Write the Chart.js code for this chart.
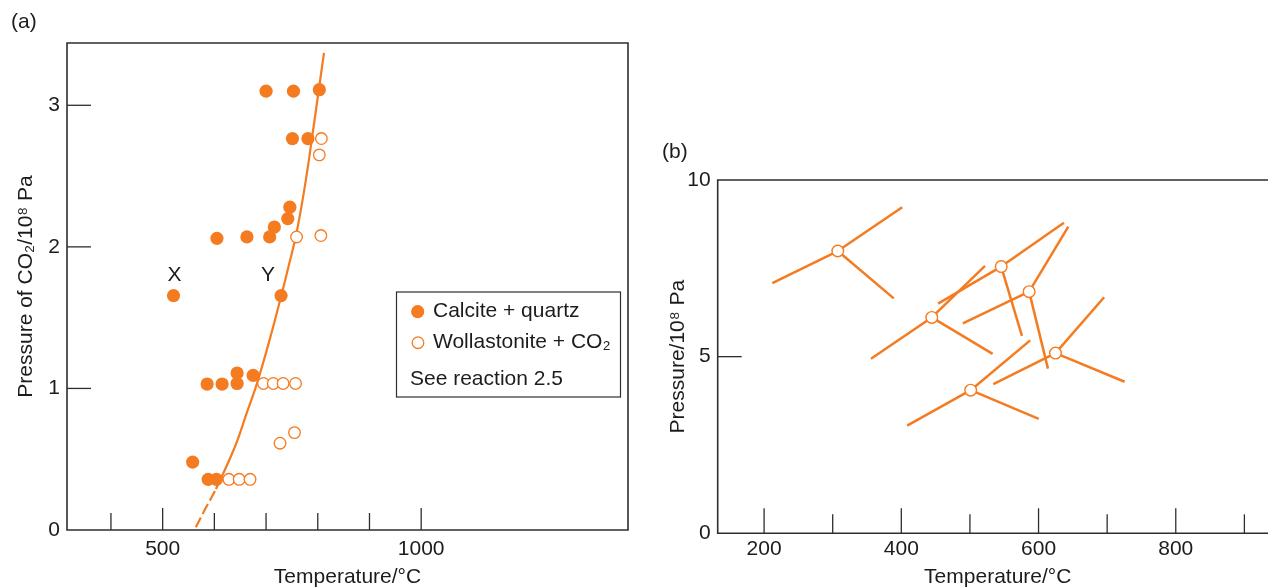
<!DOCTYPE html>
<html><head><meta charset="utf-8">
<script src="https://cdn.jsdelivr.net/npm/chart.js@4"></script>
<style>
html,body{margin:0;padding:0;background:#fff;overflow:hidden;width:1268px;height:587px;position:relative;}
#ca{position:absolute;left:0;top:0;}
#cb{position:absolute;left:640px;top:0;}
</style></head><body>
<canvas id="ca" width="645" height="587"></canvas>
<canvas id="cb" width="645" height="587"></canvas>
<script>
// ---------- Panel (a) data ----------
const calciteT = [700, 753, 803, 751, 781, 746, 742, 716, 707, 663, 605, 521, 729, 586, 615, 644, 644, 675, 558, 588, 604];
const calciteP = [3.10, 3.10, 3.11, 2.765, 2.765, 2.28, 2.20, 2.14, 2.07, 2.07, 2.06, 1.656, 1.656, 1.031, 1.031, 1.035, 1.109, 1.092, 0.48, 0.358, 0.358];
const wollT = [807, 803, 759, 806, 695, 714, 733, 757, 727, 755, 628, 648, 669];
const wollP = [2.765, 2.65, 2.07, 2.08, 1.035, 1.035, 1.035, 1.035, 0.613, 0.688, 0.358, 0.358, 0.358];
const curveT = [564, 584, 603, 640, 662, 682, 707, 729, 744, 759, 776, 792, 812];
const curveP = [0.02, 0.16, 0.29, 0.59, 0.82, 1.03, 1.345, 1.65, 1.87, 2.10, 2.45, 2.85, 3.37];
const curveDashedSegments = 2;
const xTicksA = [400, 500, 600, 700, 800, 900, 1000];
const xLabelsA = [500, 1000];
const yTicksA = [1, 2, 3];
const yLabelsA = [0, 1, 2, 3];

// ---------- Panel (b) data ----------
const bCentreT = [307.4, 444.4, 545.6, 586.3, 624.7, 501.1];
const bCentreP = [7.99, 6.11, 7.55, 6.84, 5.10, 4.05];
const bArmT = [[401.3, 212, 389], [355.8, 533.1, 522], [453.6, 637, 575.8], [489.6, 643.4, 613.7], [534.1, 695.6, 725.4], [408.5, 587.8, 600.3]];
const bArmP = [[9.23, 7.08, 6.65], [4.94, 5.08, 7.57], [6.50, 8.79, 5.59], [5.94, 8.68, 4.66], [4.22, 6.68, 4.29], [3.05, 5.46, 3.24]];
const xTicksB = [200, 300, 400, 500, 600, 700, 800, 900];
const xLabelsB = [200, 400, 600, 800];
const yTicksB = [5];
const yLabelsB = [0, 5, 10];

// ---------- styles ----------
const ORANGE = '#F47B20';
const INK = '#1c1c1c';
const AXIS = '#2e2e2e';
const FONT = '"Liberation Sans", Arial, Helvetica, sans-serif';
Chart.defaults.font.family = FONT;
Chart.defaults.font.size = 21;
Chart.defaults.color = INK;

const pts = (xs, ys) => xs.map((x, i) => ({x: x, y: ys[i]}));

function drawTickMarks(ctx, chart, xVals, xMajor, majLen, minLen, yVals, yLen) {
  const a = chart.chartArea, x = chart.scales.x, y = chart.scales.y;
  ctx.lineWidth = 1.3;
  ctx.strokeStyle = AXIS;
  xVals.forEach(v => {
    const px = x.getPixelForValue(v);
    const len = xMajor.includes(v) ? majLen : minLen;
    ctx.beginPath(); ctx.moveTo(px, a.bottom); ctx.lineTo(px, a.bottom - len); ctx.stroke();
  });
  yVals.forEach(v => {
    const py = y.getPixelForValue(v);
    ctx.beginPath(); ctx.moveTo(a.left, py); ctx.lineTo(a.left + yLen, py); ctx.stroke();
  });
}

const frameA = {
  id: 'frameA',
  afterDraw(chart) {
    const ctx = chart.ctx, a = chart.chartArea, x = chart.scales.x, y = chart.scales.y;
    ctx.save();
    ctx.strokeStyle = AXIS; ctx.lineWidth = 1.6;
    ctx.beginPath();
    ctx.moveTo(a.left, a.top); ctx.lineTo(a.right, a.top); ctx.lineTo(a.right, a.bottom);
    ctx.lineTo(a.left, a.bottom); ctx.closePath(); ctx.stroke();
    drawTickMarks(ctx, chart, xTicksA, xLabelsA, 22, 17, yTicksA, 24);

    ctx.fillStyle = INK;
    ctx.font = '21px ' + FONT;
    ctx.textBaseline = 'middle';
    ctx.textAlign = 'left';
    ctx.fillText('(a)', 11, 22.5);
    ctx.textAlign = 'center';
    ctx.fillText('X', x.getPixelForValue(calciteT[11]) + 1, y.getPixelForValue(calciteP[11]) - 20);
    ctx.fillText('Y', x.getPixelForValue(calciteT[12]) - 13, y.getPixelForValue(calciteP[12]) - 20);

    // legend box
    ctx.lineWidth = 1.2; ctx.strokeStyle = AXIS;
    ctx.strokeRect(396.5, 292, 224, 105);
    ctx.beginPath(); ctx.arc(417.7, 311.7, 6.6, 0, Math.PI * 2); ctx.fillStyle = ORANGE; ctx.fill();
    ctx.beginPath(); ctx.arc(418, 342.7, 5.8, 0, Math.PI * 2); ctx.fillStyle = '#fff'; ctx.fill();
    ctx.lineWidth = 1.3; ctx.strokeStyle = ORANGE; ctx.stroke();
    ctx.fillStyle = INK; ctx.textAlign = 'left';
    ctx.fillText('Calcite + quartz', 433, 311);
    ctx.fillText('Wollastonite + CO\u2082', 433, 342);
    ctx.fillText('See reaction 2.5', 410, 379);
    ctx.restore();
  }
};

const frameB = {
  id: 'frameB',
  afterDraw(chart) {
    const ctx = chart.ctx, a = chart.chartArea;
    ctx.save();
    ctx.strokeStyle = AXIS; ctx.lineWidth = 1.6;
    ctx.beginPath();
    ctx.moveTo(a.right + 2, a.top); ctx.lineTo(a.left, a.top); ctx.lineTo(a.left, a.bottom); ctx.lineTo(a.right + 2, a.bottom);
    ctx.stroke();
    drawTickMarks(ctx, chart, xTicksB, xLabelsB, 25, 19, yTicksB, 24);
    ctx.fillStyle = INK;
    ctx.font = '21px ' + FONT;
    ctx.textBaseline = 'middle';
    ctx.textAlign = 'left';
    ctx.fillText('(b)', 22, 152.3);
    ctx.restore();
  }
};

function axisX(min, max, labels, h, pad) {
  return {
    type: 'linear', min: min, max: max,
    afterFit: s => { s.height = h; },
    afterBuildTicks: s => { s.ticks = labels.map(v => ({value: v})); },
    grid: {display: false, drawTicks: false},
    border: {display: false},
    ticks: {padding: pad, maxRotation: 0, minRotation: 0, autoSkip: false, color: INK, font: {size: 21},
            callback: v => String(v)},
    title: {display: true, text: 'Temperature/°C', color: INK, font: {size: 21, lineHeight: 0.9}, padding: 0}
  };
}
function axisY(min, max, labels, w, title, tpad) {
  return {
    type: 'linear', min: min, max: max,
    afterFit: s => { s.width = w; },
    afterBuildTicks: s => { s.ticks = labels.map(v => ({value: v})); },
    grid: {display: false, drawTicks: false},
    border: {display: false},
    ticks: {padding: 7, autoSkip: false, color: INK, font: {size: 21}, callback: v => String(v)},
    title: {display: true, text: title, color: INK, font: {size: 21, lineHeight: 0.9}, padding: {top: tpad, bottom: 0}}
  };
}

new Chart(document.getElementById('ca'), {
  type: 'scatter',
  data: {datasets: [
    {label: 'Calcite + quartz', data: pts(calciteT, calciteP), pointRadius: 6.6, backgroundColor: ORANGE, borderColor: ORANGE, pointBorderWidth: 0, order: 0},
    {label: 'Wollastonite + CO\u2082', data: pts(wollT, wollP), pointRadius: 5.8, backgroundColor: '#ffffff', borderColor: ORANGE, pointBorderWidth: 1.3, order: 1},
    {label: 'reaction 2.5', data: pts(curveT, curveP), showLine: true, borderColor: ORANGE, borderWidth: 2.2, pointRadius: 0,
     tension: 0.4,
     segment: {borderDash: c => c.p0DataIndex < curveDashedSegments ? [11, 4] : undefined}, order: 2}
  ]},
  options: {
    responsive: false, animation: false, events: [],
    layout: {padding: {top: 43, right: 17, left: 0, bottom: 0}},
    plugins: {legend: {display: false}, tooltip: {enabled: false}},
    scales: {
      x: axisX(315, 1400, xLabelsA, 57, 7),
      y: axisY(0, 3.44, yLabelsA, 67, 'Pressure of CO\u2082/10\u2078 Pa', 16.7)
    }
  },
  plugins: [frameA]
});

const bDatasets = [];
bCentreT.forEach((t, i) => {
  bArmT[i].forEach((et, j) => {
    bDatasets.push({label: 'arm', data: [{x: et, y: bArmP[i][j]}, {x: t, y: bCentreP[i]}], showLine: true,
      borderColor: ORANGE, borderWidth: 2.5, pointRadius: 0, order: 2});
  });
});
bDatasets.push({label: 'points', data: pts(bCentreT, bCentreP), pointRadius: 5.8, backgroundColor: '#ffffff',
  borderColor: ORANGE, pointBorderWidth: 1.4, order: 0});

new Chart(document.getElementById('cb'), {
  type: 'scatter',
  data: {datasets: bDatasets},
  options: {
    responsive: false, animation: false, events: [],
    layout: {padding: {top: 180, right: 0, left: 0, bottom: 0}},
    plugins: {legend: {display: false}, tooltip: {enabled: false}},
    scales: {
      x: axisX(132.4, 948.7, xLabelsB, 53.7, 3),
      y: axisY(0, 10, yLabelsB, 77.7, 'Pressure/10\u2078 Pa', 28.4)
    }
  },
  plugins: [frameB]
});
</script>
</body></html>
